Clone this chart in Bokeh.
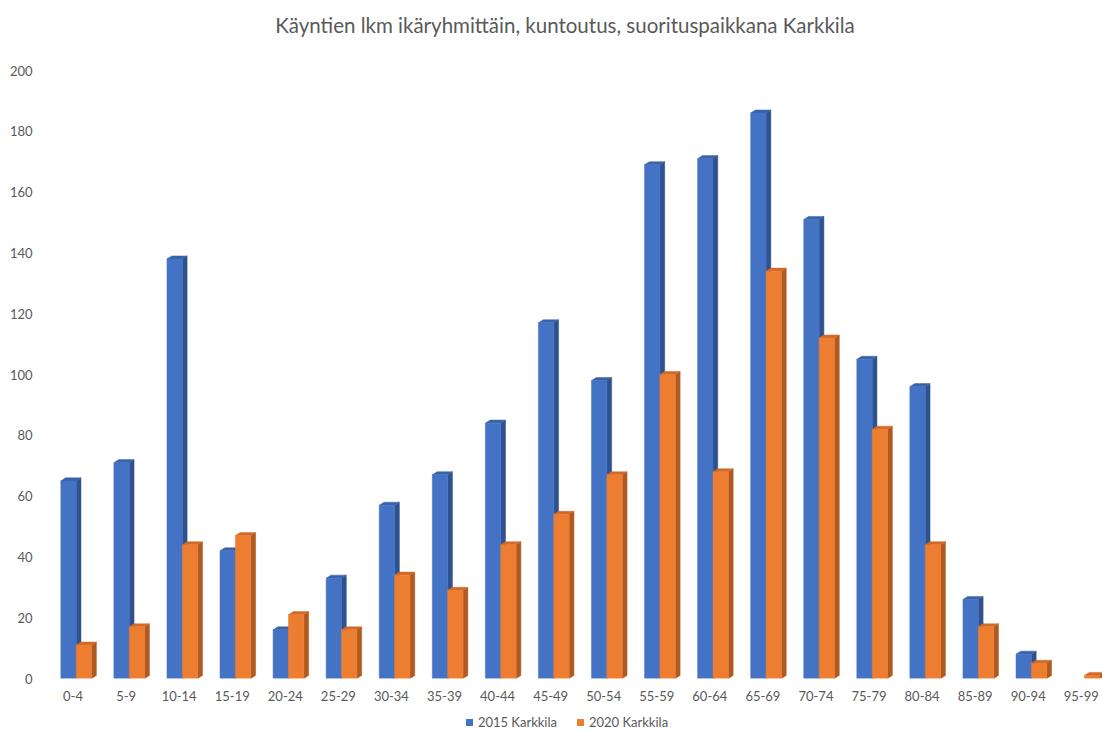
from bokeh.plotting import figure
from bokeh.models import FixedTicker, Div
from bokeh.layouts import column
from bokeh.embed import file_html
from bokeh.resources import INLINE

# Visit counts by age group, rehabilitation, Karkkila
age_groups = ["0-4", "5-9", "10-14", "15-19", "20-24", "25-29", "30-34", "35-39",
              "40-44", "45-49", "50-54", "55-59", "60-64", "65-69", "70-74", "75-79",
              "80-84", "85-89", "90-94", "95-99"]
visits_2015 = [65, 71, 138, 42, 16, 33, 57, 67, 84, 117, 98, 169, 171, 186, 151, 105,
               96, 26, 8, 0]
visits_2020 = [11, 17, 44, 47, 21, 16, 34, 29, 44, 54, 67, 100, 68, 134, 112, 82,
               44, 17, 5, 1]
series_names = ["2015 Karkkila", "2020 Karkkila"]
y_ticks = [0, 20, 40, 60, 80, 100, 120, 140, 160, 180, 200]
chart_title = "Käyntien lkm ikäryhmittäin, kuntoutus, suorituspaikkana Karkkila"

FONT = "Lato"
TEXT = "#595959"

# front, side and top face colours of the pseudo-3D bars
styles = [
    ("#4472C4", "#2F528F", "#3A62A8"),
    ("#ED7D31", "#AE5A21", "#D06A28"),
]

# Chart heading as a block above the plot
heading = Div(text=chart_title, width=1102, height=50, margin=0,
              styles={"font-family": FONT, "font-size": "20.5px", "color": TEXT,
                      "line-height": "50px", "text-align": "center",
                      "box-sizing": "border-box", "padding-left": "28px",
                      "width": "1102px", "white-space": "nowrap"})

p = figure(width=1102, height=660, frame_width=1056, frame_height=608,
           x_range=(-0.5, 19.4), y_range=(0, 200),
           output_backend="svg", toolbar_location=None,
           min_border_left=46, min_border_right=0, min_border_top=20,
           min_border_bottom=32)

p.outline_line_color = None
p.xgrid.grid_line_color = None
p.ygrid.grid_line_color = None

# Bar geometry in data units
bar_w = 0.29
shift = 0.06
dx = 0.09
dy = 1.0

for s, (vals, (front_c, side_c, top_c)) in enumerate(zip([visits_2015, visits_2020], styles)):
    lefts, rights, tops = [], [], []
    side_xs, side_ys, top_xs, top_ys = [], [], [], []
    for i, v in enumerate(vals):
        if v <= 0:
            continue
        l = i + shift - bar_w + s * bar_w
        r = l + bar_w
        lefts.append(l)
        rights.append(r)
        tops.append(v)
        side_xs.append([r, r + dx, r + dx, r])
        side_ys.append([0, dy, v + dy, v])
        top_xs.append([l, l + dx, r + dx, r])
        top_ys.append([v, v + dy, v + dy, v])
    p.patches(side_xs, side_ys, fill_color=side_c, line_color=side_c, line_width=0.5)
    p.patches(top_xs, top_ys, fill_color=top_c, line_color=top_c, line_width=0.5)
    p.quad(left=lefts, right=rights, bottom=0, top=tops,
           fill_color=front_c, line_color=front_c, line_width=0.5)

# Axes
p.xaxis.ticker = FixedTicker(ticks=list(range(len(age_groups))))
p.xaxis.major_label_overrides = {i: g for i, g in enumerate(age_groups)}
p.yaxis.ticker = FixedTicker(ticks=y_ticks)
for ax in (p.xaxis[0], p.yaxis[0]):
    ax.axis_line_color = None
    ax.major_tick_line_color = None
    ax.minor_tick_line_color = None
    ax.major_tick_out = 0
    ax.major_tick_in = 0
    ax.minor_tick_out = 0
    ax.minor_tick_in = 0
    ax.major_label_text_font = FONT
    ax.major_label_text_font_size = "13px"
    ax.major_label_text_color = TEXT
p.xaxis.major_label_standoff = 12
p.yaxis.major_label_standoff = 14

# Series key below the chart
key_html = "".join(
    f'<span style="display:inline-block;width:7px;height:7px;background:{c[0]};'
    f'margin:0 5px 1px {0 if k == 0 else 20}px;vertical-align:middle"></span>'
    f'<span style="vertical-align:middle">{name}</span>'
    for k, (name, c) in enumerate(zip(series_names, styles))
)
key = Div(text=key_html, width=1102, height=21, margin=0,
          styles={"font-family": FONT, "font-size": "13px", "color": TEXT,
                  "line-height": "15px", "text-align": "center",
                  "box-sizing": "border-box", "padding-left": "32px",
                  "padding-top": "4px", "width": "1102px", "white-space": "nowrap"})

open("out.html", "w").write(file_html(column(heading, p, key, spacing=0), INLINE))
